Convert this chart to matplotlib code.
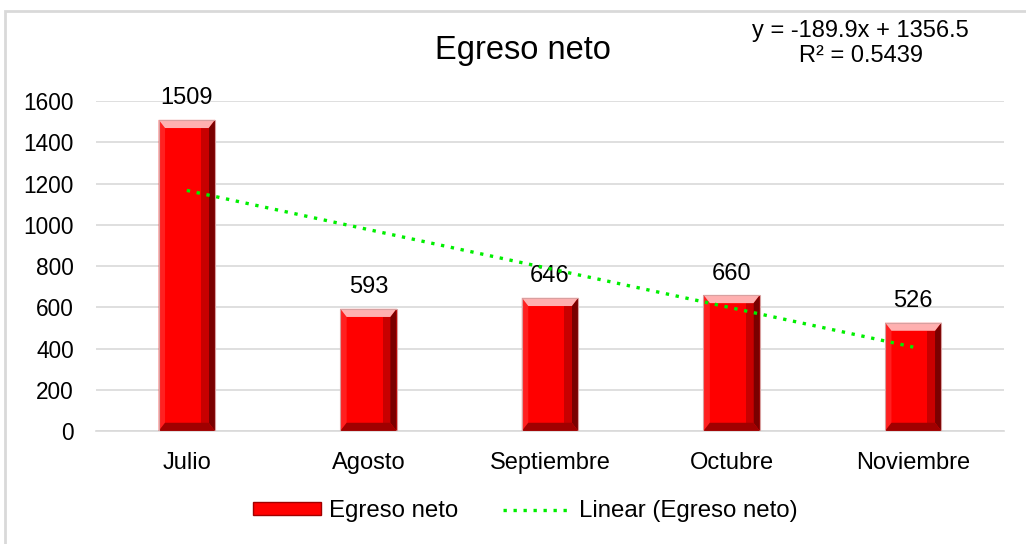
import numpy as np
import matplotlib
matplotlib.use("Agg")
import matplotlib.pyplot as plt
from matplotlib.patches import Polygon, Rectangle
from matplotlib.lines import Line2D

plt.rcParams['font.family'] = ['Liberation Sans', 'DejaVu Sans']

# data
months = ['Julio', 'Agosto', 'Septiembre', 'Octubre', 'Noviembre']
egreso = [1509, 593, 646, 660, 526]
y_ticks = [0, 200, 400, 600, 800, 1000, 1200, 1400, 1600]

fig = plt.figure(figsize=(10.26, 5.44), dpi=100)
ax = fig.add_axes([0.0936, 0.2077, 0.885, 0.6066])

# outer chart frame
fig.patches.append(Rectangle((0.005, -0.05), 1.1, 1.03, transform=fig.transFigure,
                             fill=False, edgecolor='#d9d9d9', linewidth=2))

x = np.arange(1, len(months) + 1)
bars = ax.bar(x, egreso, width=0.31, color='#ff0000', edgecolor='none', zorder=2)

# bevel look on each bar
bx, by = 0.035, 40
for b in bars:
    x0, w, h = b.get_x(), b.get_width(), b.get_height()
    x1 = x0 + w
    # left side, slightly lighter
    ax.add_patch(Polygon([[x0, 0], [x0 + bx, by], [x0 + bx, h - by], [x0, h]],
                         color='#ff2020', zorder=3, lw=0))
    # right side, dark
    ax.add_patch(Polygon([[x1, 0], [x1 - bx, by], [x1 - bx, h - by], [x1, h]],
                         color='#7a0000', zorder=3, lw=0))
    ax.add_patch(Rectangle((x1 - bx * 2.2, by), bx * 1.2, h - 2 * by,
                           color='#c80000', zorder=3, lw=0))
    # top highlight
    ax.add_patch(Polygon([[x0, h], [x1, h], [x1 - bx, h - by], [x0 + bx, h - by]],
                         color='#ffb0b0', zorder=3, lw=0))
    # bottom dark
    ax.add_patch(Polygon([[x0, 0], [x1, 0], [x1 - bx, by], [x0 + bx, by]],
                         color='#a00000', zorder=3, lw=0))
    ax.add_patch(Rectangle((x0, 0), w, h, fill=False, edgecolor='#d8a0a0', lw=0.8, zorder=4))
    ax.text(b.get_x() + w / 2, h + 50, str(h), ha='center', va='bottom', fontsize=17)

# linear trendline
slope, intercept = np.polyfit(x, egreso, 1)
ax.plot(x, slope * x + intercept, color='#00ee00', linestyle=(0, (1, 2)), linewidth=2.4,
        zorder=5)
ss_res = np.sum((np.array(egreso) - (slope * x + intercept)) ** 2)
ss_tot = np.sum((np.array(egreso) - np.mean(egreso)) ** 2)
r2 = 1 - ss_res / ss_tot
fig.text(0.839, 0.92, f'y = {slope:.1f}x + {intercept:.1f}\nR² = {r2:.4f}',
         ha='center', va='center', fontsize=17, linespacing=1.2)

ax.set_title('Egreso neto', fontsize=23.5, pad=30, x=0.47)

ax.set_xlim(0.5, len(months) + 0.5)
ax.set_ylim(0, 1600)
ax.set_yticks(y_ticks)
ax.set_xticks(x)
ax.set_xticklabels(months, fontsize=17)
ax.tick_params(axis='both', length=0)
ax.tick_params(axis='y', pad=16, labelsize=16.3)
ax.tick_params(axis='x', pad=15)
ax.grid(axis='y', color='#d9d9d9', linewidth=1.2, zorder=0)
ax.set_axisbelow(True)
for s in ['top', 'right', 'left']:
    ax.spines[s].set_visible(False)
ax.spines['bottom'].set_color('#d9d9d9')
ax.spines['bottom'].set_linewidth(1.2)

handles = [Rectangle((0, 0), 1, 1, facecolor='#ff0000', edgecolor='#a00000'),
           Line2D([0], [0], color='#00ee00', linestyle=(0, (1, 2)), linewidth=2.4)]
fig.legend(handles, ['Egreso neto', 'Linear (Egreso neto)'], loc='center',
           bbox_to_anchor=(0.512, 0.06), ncol=2, frameon=False, fontsize=17.3,
           handlelength=2.83, handleheight=0.45, columnspacing=1.83, handletextpad=0.33)

fig.savefig('out.png', dpi=100)
